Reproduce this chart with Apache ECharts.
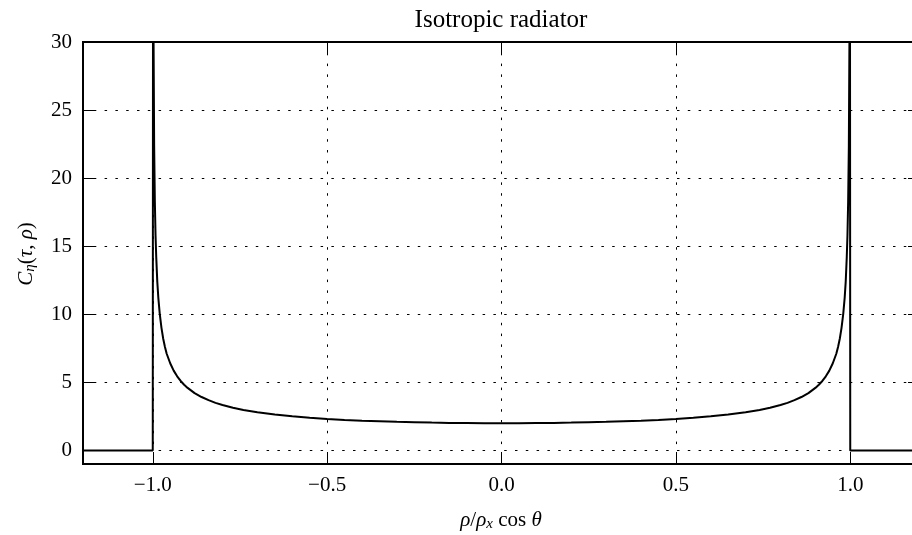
<!DOCTYPE html>
<html>
<head>
<meta charset="utf-8">
<script src="https://cdn.jsdelivr.net/npm/echarts@6/dist/echarts.min.js"></script>
<style>
html,body{margin:0;padding:0;background:#fff;overflow:hidden;}
#c{width:920px;height:535px;}
</style>
</head>
<body>
<div id="c"></div>
<script>
// Values
const xValues = [-1.2, -1.0, -0.999, -0.998, -0.996, -0.994, -0.992, -0.99, -0.987, -0.984, -0.98, -0.975, -0.97, -0.965, -0.96, -0.95, -0.94, -0.93, -0.92, -0.91, -0.9, -0.88, -0.86, -0.84, -0.82, -0.8, -0.77, -0.74, -0.7, -0.65, -0.6, -0.55, -0.5, -0.45, -0.4, -0.35, -0.3, -0.25, -0.2, -0.15, -0.1, -0.05, 0,
  0.05, 0.1, 0.15, 0.2, 0.25, 0.3, 0.35, 0.4, 0.45, 0.5, 0.55, 0.6, 0.65, 0.7, 0.74, 0.77, 0.8, 0.82, 0.84, 0.86, 0.88, 0.9, 0.91, 0.92, 0.93, 0.94, 0.95, 0.96, 0.965, 0.97, 0.975, 0.98, 0.984, 0.987, 0.99, 0.992, 0.994, 0.996, 0.998, 0.999, 1.0, 1.2];
const cValues = [0, 0, 44.7, 31.6, 22.4, 18.3, 15.8, 14.2, 12.4, 11.2, 10.05, 9.0, 8.2, 7.6, 7.1, 6.4, 5.86, 5.44, 5.10, 4.82, 4.59, 4.21, 3.92, 3.69, 3.49, 3.33, 3.13, 2.97, 2.80, 2.63, 2.50, 2.39, 2.31, 2.24, 2.18, 2.14, 2.10, 2.07, 2.04, 2.02, 2.01, 2.00, 2.00,
  2.00, 2.01, 2.02, 2.04, 2.07, 2.10, 2.14, 2.18, 2.24, 2.31, 2.39, 2.50, 2.63, 2.80, 2.97, 3.13, 3.33, 3.49, 3.69, 3.92, 4.21, 4.59, 4.82, 5.10, 5.44, 5.86, 6.4, 7.1, 7.6, 8.2, 9.0, 10.05, 11.2, 12.4, 14.2, 15.8, 18.3, 22.4, 31.6, 44.7, 0, 0];
const xTicks = [-1.0, -0.5, 0.0, 0.5, 1.0];
const yTicks = [0, 5, 10, 15, 20, 25, 30];
const xRange = [-1.2, 1.2];
const yRange = [-1, 30];
const titleText = 'Isotropic radiator';

const FONT = '"Liberation Serif", "Times New Roman", serif';
const chart = echarts.init(document.getElementById('c'), null, {renderer: 'canvas', width: 920, height: 535});
const seriesData = xValues.map((x, i) => [x, cValues[i]]);
const fmtX = v => (v < 0 ? '\u2212' : '') + Math.abs(v).toFixed(1);
const gridDots = {show: true, lineStyle: {color: '#000', width: 1, type: [2.5, 8.3]}};
const tickStyle = {color: '#000', width: 1};

const option = {
  animation: false,
  backgroundColor: '#fff',
  grid: {left: 83, right: 0, top: 42, bottom: 71, outerBoundsMode: 'none', show: true, borderColor: '#000', borderWidth: 2, backgroundColor: 'transparent'},
  xAxis: [{
    type: 'value', min: xRange[0], max: xRange[1], position: 'bottom',
    axisLine: {show: false, onZero: false},
    axisTick: {show: true, inside: true, length: 12, lineStyle: tickStyle, customValues: xTicks},
    axisLabel: {show: true, customValues: xTicks, formatter: fmtX, color: '#000', fontFamily: FONT, fontSize: 21, margin: 11},
    splitLine: gridDots
  }, {
    type: 'value', min: xRange[0], max: xRange[1], position: 'top',
    axisLine: {show: false, onZero: false},
    axisTick: {show: true, inside: true, length: 12, lineStyle: tickStyle, customValues: xTicks},
    axisLabel: {show: false},
    splitLine: {show: false}
  }],
  yAxis: [{
    type: 'value', min: yRange[0], max: yRange[1], position: 'left',
    axisLine: {show: false, onZero: false},
    axisTick: {show: true, inside: true, length: 12, lineStyle: tickStyle, customValues: yTicks},
    axisLabel: {show: true, customValues: yTicks, color: '#000', fontFamily: FONT, fontSize: 21, margin: 11},
    splitLine: gridDots
  }, {
    type: 'value', min: yRange[0], max: yRange[1], position: 'right',
    axisLine: {show: false, onZero: false},
    axisTick: {show: true, inside: true, length: 12, lineStyle: tickStyle, customValues: yTicks},
    axisLabel: {show: false},
    splitLine: {show: false}
  }],
  series: [{
    type: 'line', data: seriesData, showSymbol: false, symbol: 'none', clip: true,
    lineStyle: {color: '#000', width: 2}, z: 3
  }],
  graphic: [
    {type: 'text', z: 10, x: 501, y: 20,
      style: {text: titleText, align: 'center', verticalAlign: 'middle', fontFamily: FONT, fontSize: 25, fill: '#000'}},
    {type: 'text', z: 10, x: 501, y: 520,
      style: {
        text: '{i|ρ}{n|/}{i|ρ}{sub|x}{n| cos }{i|θ}',
        align: 'center', verticalAlign: 'middle',
        rich: {
          i: {fontFamily: FONT, fontStyle: 'italic', fontSize: 21, lineHeight: 24, fill: '#000'},
          n: {fontFamily: FONT, fontSize: 21, lineHeight: 24, fill: '#000'},
          sub: {fontFamily: FONT, fontStyle: 'italic', fontSize: 15, lineHeight: 12, verticalAlign: 'bottom', fill: '#000'}
        }
      }},
    {type: 'text', z: 10, x: 26, y: 254, rotation: Math.PI / 2,
      style: {
        text: '{i|C}{sub|η}{n|(}{i|τ}{n|, }{i|ρ}{n|)}',
        align: 'center', verticalAlign: 'middle',
        rich: {
          i: {fontFamily: FONT, fontStyle: 'italic', fontSize: 21, lineHeight: 24, fill: '#000'},
          n: {fontFamily: FONT, fontSize: 21, lineHeight: 24, fill: '#000'},
          sub: {fontFamily: FONT, fontStyle: 'italic', fontSize: 15, lineHeight: 12, verticalAlign: 'bottom', fill: '#000'}
        }
      }}
  ]
};
chart.setOption(option);
</script>
</body>
</html>
